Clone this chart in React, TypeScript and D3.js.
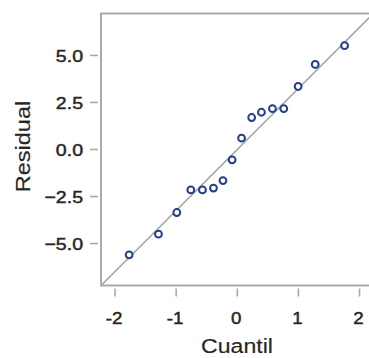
import * as d3 from 'd3';
import React, { useEffect, useRef } from 'react';

// theoretical normal quantiles (x) and sorted residuals (y)
const quantiles = [-1.77, -1.29, -0.99, -0.76, -0.57, -0.39, -0.235, -0.085, 0.07, 0.235, 0.395, 0.575, 0.76, 0.995, 1.275, 1.755];
const residuals = [-5.6, -4.5, -3.35, -2.15, -2.15, -2.05, -1.65, -0.55, 0.6, 1.7, 1.98, 2.17, 2.17, 3.35, 4.52, 5.52];
const xTicks = [-2, -1, 0, 1, 2];
const yTicks = [-5, -2.5, 0, 2.5, 5];
const lineIntercept = 0;
const lineSlope = 3.245;

const QQPlot = () => {
  const ref = useRef<SVGSVGElement | null>(null);

  const drawChart = () => {
    if (!ref.current) return;
    const svg = d3.select(ref.current);
    svg.selectAll('*').remove();

    const width = 369;
    const height = 358;
    const left = 101;
    const top = 13.5;
    const bottom = 285.5;

    const x = d3.scaleLinear().domain([-2.23, 2.23]).range([left, 373.6]);
    const y = d3.scaleLinear().domain([-7.23, 7.23]).range([bottom, top]);

    svg.attr('width', width).attr('height', height);
    svg.append('rect').attr('width', width).attr('height', height).attr('fill', '#fff');

    const axisColor = '#a9a9a9';
    const textColor = '#262626';
    const font = 'Arial, "Liberation Sans", sans-serif';

    svg.append('clipPath').attr('id', 'plotclip')
      .append('rect')
      .attr('x', left).attr('y', top)
      .attr('width', x.range()[1] - left).attr('height', bottom - top);

    // reference line
    const xd = x.domain();
    svg.append('line')
      .attr('clip-path', 'url(#plotclip)')
      .attr('x1', x(xd[0])).attr('y1', y(lineIntercept + lineSlope * xd[0]))
      .attr('x2', x(xd[1])).attr('y2', y(lineIntercept + lineSlope * xd[1]))
      .attr('stroke', '#a6a6a6')
      .attr('stroke-width', 1.6);

    // frame
    svg.append('rect')
      .attr('x', left).attr('y', top)
      .attr('width', x.range()[1] - left).attr('height', bottom - top)
      .attr('fill', 'none')
      .attr('stroke', axisColor)
      .attr('stroke-width', 2);

    const styleText = (sel, size, thick) => sel
      .attr('fill', textColor)
      .attr('stroke', textColor)
      .attr('stroke-width', thick)
      .style('font-size', size)
      .style('font-family', font);

    // x ticks
    const xt = svg.append('g');
    xt.selectAll('line').data(xTicks).enter().append('line')
      .attr('x1', (d) => x(d)).attr('x2', (d) => x(d))
      .attr('y1', bottom + 3).attr('y2', bottom + 11)
      .attr('stroke', axisColor).attr('stroke-width', 1.6);
    xt.selectAll('text').data(xTicks).enter().append('text')
      .attr('transform', (d) => `translate(${x(d) - 1},324) scale(1.1,1)`)
      .attr('text-anchor', 'middle')
      .call(styleText, '17px', 0.45)
      .text((d) => String(d));

    // y ticks
    const yt = svg.append('g');
    yt.selectAll('line').data(yTicks).enter().append('line')
      .attr('x1', left - 11).attr('x2', left - 3)
      .attr('y1', (d) => y(d)).attr('y2', (d) => y(d))
      .attr('stroke', axisColor).attr('stroke-width', 1.6);
    yt.selectAll('text').data(yTicks).enter().append('text')
      .attr('transform', (d) => `translate(83,${y(d) + 6.3}) scale(1.15,1)`)
      .attr('text-anchor', 'end')
      .call(styleText, '17px', 0.45)
      .text((d) => d3.format('.1f')(d));

    // axis titles
    svg.append('text')
      .attr('transform', 'translate(237,353) scale(1.1,1)')
      .attr('text-anchor', 'middle')
      .call(styleText, '21px', 0.15)
      .text('Cuantil');

    svg.append('text')
      .attr('transform', `translate(29.5,${(top + bottom) / 2 - 3}) rotate(-90) scale(1.12,1)`)
      .attr('text-anchor', 'middle')
      .call(styleText, '21px', 0.15)
      .text('Residual');

    // points
    svg.append('g').selectAll('circle')
      .data(quantiles.map((q, i) => ({ q, r: residuals[i] })))
      .enter().append('circle')
      .attr('cx', (d) => x(d.q))
      .attr('cy', (d) => y(d.r))
      .attr('r', 3.4)
      .attr('fill', '#fff')
      .attr('stroke', '#233f8a')
      .attr('stroke-width', 2);
  };

  useEffect(() => {
    drawChart();
  }, []);

  return <svg ref={ref} style={{ position: 'absolute', left: 0, top: 0, display: 'block' }} />;
};

export default function App() {
  return <QQPlot />;
}
